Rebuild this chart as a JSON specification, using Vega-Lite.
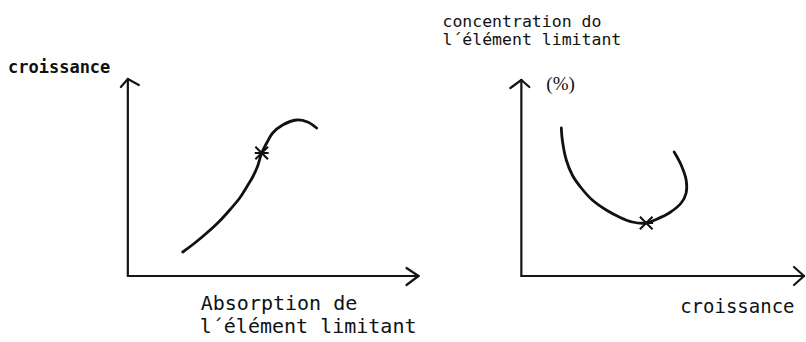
{
  "$schema": "https://vega.github.io/schema/vega-lite/v6.json",
  "width": 806,
  "height": 342,
  "padding": 0,
  "autosize": {"type": "fit", "contains": "padding"},
  "background": "white",
  "config": {"view": {"stroke": null}},
  "datasets": {
    "curves": [
      {"curve": "absorption", "i": 1, "x": 183, "y": 90},
      {"curve": "absorption", "i": 2, "x": 195, "y": 99},
      {"curve": "absorption", "i": 3, "x": 207, "y": 109},
      {"curve": "absorption", "i": 4, "x": 219, "y": 120},
      {"curve": "absorption", "i": 5, "x": 230, "y": 132},
      {"curve": "absorption", "i": 6, "x": 240, "y": 144},
      {"curve": "absorption", "i": 7, "x": 247, "y": 155},
      {"curve": "absorption", "i": 8, "x": 253, "y": 165},
      {"curve": "absorption", "i": 9, "x": 258, "y": 176},
      {"curve": "absorption", "i": 10, "x": 262, "y": 189},
      {"curve": "absorption", "i": 11, "x": 267, "y": 199},
      {"curve": "absorption", "i": 12, "x": 273, "y": 209},
      {"curve": "absorption", "i": 13, "x": 283, "y": 217},
      {"curve": "absorption", "i": 14, "x": 297, "y": 222},
      {"curve": "absorption", "i": 15, "x": 308, "y": 220},
      {"curve": "absorption", "i": 16, "x": 317, "y": 214},
      {"curve": "concentration", "i": 1, "x": 562, "y": 214},
      {"curve": "concentration", "i": 2, "x": 563, "y": 202},
      {"curve": "concentration", "i": 3, "x": 567, "y": 182},
      {"curve": "concentration", "i": 4, "x": 573, "y": 167},
      {"curve": "concentration", "i": 5, "x": 582, "y": 154},
      {"curve": "concentration", "i": 6, "x": 593, "y": 142},
      {"curve": "concentration", "i": 7, "x": 607, "y": 132},
      {"curve": "concentration", "i": 8, "x": 620, "y": 125},
      {"curve": "concentration", "i": 9, "x": 633, "y": 120},
      {"curve": "concentration", "i": 10, "x": 647, "y": 119},
      {"curve": "concentration", "i": 11, "x": 658, "y": 123},
      {"curve": "concentration", "i": 12, "x": 670, "y": 129},
      {"curve": "concentration", "i": 13, "x": 682, "y": 139},
      {"curve": "concentration", "i": 14, "x": 687, "y": 149},
      {"curve": "concentration", "i": 15, "x": 687, "y": 162},
      {"curve": "concentration", "i": 16, "x": 682, "y": 177},
      {"curve": "concentration", "i": 17, "x": 675, "y": 190}
    ],
    "segments": [
      {"x": 128, "y": 66, "x2": 128, "y2": 263},
      {"x": 121, "y": 255, "x2": 128, "y2": 263},
      {"x": 139, "y": 257, "x2": 128, "y2": 263},
      {"x": 128, "y": 66, "x2": 419, "y2": 66},
      {"x": 407, "y": 74, "x2": 419, "y2": 66},
      {"x": 407, "y": 57, "x2": 419, "y2": 66},
      {"x": 522, "y": 66, "x2": 522, "y2": 262},
      {"x": 511, "y": 254, "x2": 522, "y2": 262},
      {"x": 530, "y": 255, "x2": 522, "y2": 262},
      {"x": 522, "y": 66, "x2": 805, "y2": 66},
      {"x": 795, "y": 75, "x2": 805, "y2": 66},
      {"x": 795, "y": 57, "x2": 805, "y2": 66}
    ],
    "stars": [
      {"x": 262, "y": 189},
      {"x": 647, "y": 119}
    ]
  },
  "encoding": {
    "x": {"field": "x", "type": "quantitative", "scale": {"domain": [0, 806], "nice": false, "zero": false}, "axis": null},
    "y": {"field": "y", "type": "quantitative", "scale": {"domain": [0, 342], "nice": false, "zero": false}, "axis": null}
  },
  "layer": [
    {
      "data": {"name": "segments"},
      "mark": {"type": "rule", "stroke": "#151515", "strokeWidth": 2.2, "strokeCap": "round"},
      "encoding": {
        "x2": {"field": "x2"},
        "y2": {"field": "y2"}
      }
    },
    {
      "data": {"name": "curves"},
      "mark": {"type": "line", "stroke": "#111111", "strokeWidth": 2.8, "interpolate": "catmull-rom", "strokeCap": "round"},
      "encoding": {
        "detail": {"field": "curve"},
        "order": {"field": "i", "type": "quantitative"}
      }
    },
    {
      "data": {"name": "stars"},
      "mark": {"type": "point", "shape": "M-1,-1L1,1M-1,1L1,-1M-1.1,0L1.1,0", "filled": false, "stroke": "#111111", "strokeWidth": 2, "size": 160, "opacity": 1}
    },
    {
      "data": {"values": [{"x": 8, "y": 269, "label": "croissance"}]},
      "mark": {"type": "text", "font": "DejaVu Sans Mono", "fontWeight": "bold", "fontSize": 17, "align": "left", "baseline": "alphabetic", "color": "#111111"},
      "encoding": {"text": {"field": "label"}}
    },
    {
      "data": {"values": [
        {"x": 201, "y": 32, "label": "Absorption de"},
        {"x": 200, "y": 9, "label": "l´élément limitant"}
      ]},
      "mark": {"type": "text", "font": "DejaVu Sans Mono", "fontSize": 20, "align": "left", "baseline": "alphabetic", "color": "#111111"},
      "encoding": {"text": {"field": "label"}}
    },
    {
      "data": {"values": [
        {"x": 443, "y": 315, "label": "concentration do"},
        {"x": 443, "y": 297, "label": "l´élément limitant"}
      ]},
      "mark": {"type": "text", "font": "DejaVu Sans Mono", "fontSize": 16.5, "align": "left", "baseline": "alphabetic", "color": "#111111"},
      "encoding": {"text": {"field": "label"}}
    },
    {
      "data": {"values": [{"x": 547, "y": 252, "label": "(%)"}]},
      "mark": {"type": "text", "font": "Liberation Serif", "fontSize": 19, "align": "left", "baseline": "alphabetic", "color": "#111111"},
      "encoding": {"text": {"field": "label"}}
    },
    {
      "data": {"values": [{"x": 681, "y": 29, "label": "croissance"}]},
      "mark": {"type": "text", "font": "DejaVu Sans Mono", "fontSize": 19, "align": "left", "baseline": "alphabetic", "color": "#111111"},
      "encoding": {"text": {"field": "label"}}
    }
  ]
}
